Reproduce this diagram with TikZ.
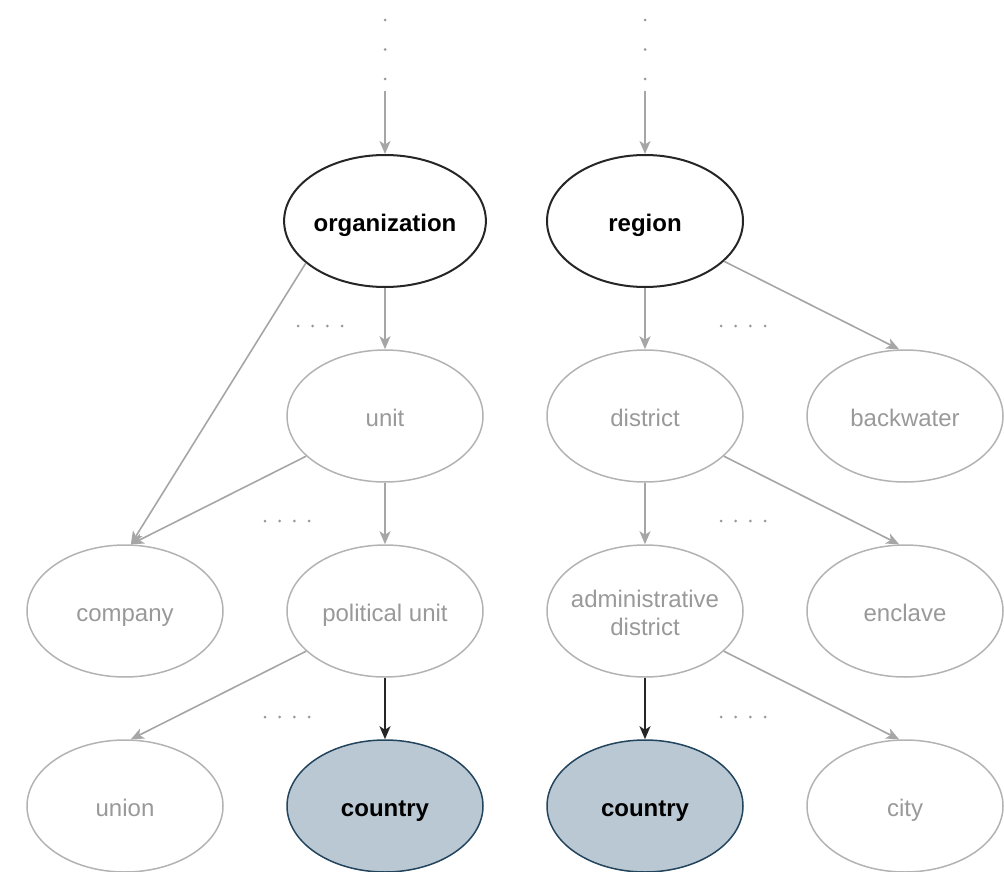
\documentclass[tikz,border=0pt]{standalone}
\usepackage{fontspec}
\setmainfont{Liberation Sans}
\usetikzlibrary{shapes.geometric,arrows.meta}
\definecolor{edgegray}{HTML}{A6A6A6}
\definecolor{rimgray}{HTML}{B3B3B3}
\definecolor{txtgray}{HTML}{999999}
\definecolor{hlfill}{HTML}{BAC8D3}
\definecolor{hlrim}{HTML}{23445D}
\tikzset{
  concept/.style={ellipse, minimum width=196pt, minimum height=132pt, inner sep=0pt,
    font=\fontsize{24pt}{28pt}\selectfont, align=center, text height=22pt, text depth=2pt},
  faded/.style={concept, draw=rimgray, line width=1.5pt, text=txtgray},
  root/.style={concept, draw=black!85, line width=2pt, font=\fontsize{24pt}{28pt}\selectfont\bfseries},
  target/.style={concept, draw=hlrim, fill=hlfill, line width=1.5pt, font=\fontsize{24pt}{28pt}\selectfont\bfseries},
  twoline/.style={text height=50pt, text depth=2pt, inner xsep=-8pt},
  link/.style={draw=edgegray, line width=1.6pt, -{Stealth[length=13pt,width=11pt,inset=3.5pt]}},
  mainlink/.style={draw=black!85, line width=1.8pt, -{Stealth[length=13pt,width=11pt,inset=3.5pt]}},
  ellipsis/.style={draw=txtgray, line width=3pt, line cap=round, dash pattern=on 0pt off 14.7pt},
  vellipsis/.style={draw=txtgray, line width=3pt, line cap=round, dash pattern=on 0pt off 29.5pt}
}
\begin{document}
\begin{tikzpicture}[x=1pt, y=-1pt]
\useasboundingbox (0,0) rectangle (1004,872);

% upper levels
\node[root] (org) at (385,221) {organization};
\node[root] (reg) at (645,221) {region};

% second level
\node[faded] (unit) at (385,416) {unit};
\node[faded] (dist) at (645,416) {district};
\node[faded] (back) at (905,416) {backwater};

% third level
\node[faded] (comp) at (125,611) {company};
\node[faded] (pol)  at (385,611) {political unit};
\node[faded, twoline] (adm) at (645,611) {administrative\\district};
\node[faded] (encl) at (905,611) {enclave};

% bottom level
\node[faded]  (union) at (125,806) {union};
\node[target] (ctyA)  at (385,806) {country};
\node[target] (ctyB)  at (645,806) {country};
\node[faded]  (city)  at (905,806) {city};

% elided ancestors above the roots
\coordinate (topA) at (385,20);
\coordinate (topAend) at (385,82);
\coordinate (topB) at (645,20);
\coordinate (topBend) at (645,82);
\coordinate (inA) at (385,91);
\coordinate (inB) at (645,91);
\draw[vellipsis] (topA) -- (topAend);
\draw[vellipsis] (topB) -- (topBend);
\draw[link] (inA) -- (org);
\draw[link] (inB) -- (reg);

% left hierarchy
\draw[link] (org) -- (unit);
\draw[link] (org.208) -- (comp.85);
\draw[link] (unit.207) -- (comp.85);
\draw[link] (unit) -- (pol);
\draw[link] (pol.207) -- (union.85);
\draw[mainlink] (pol) -- (ctyA);

% right hierarchy
\draw[link] (reg) -- (dist);
\draw[link] (reg.333) -- (back.95);
\draw[link] (dist) -- (adm);
\draw[link] (dist.333) -- (encl.95);
\draw[link] (adm.333) -- (city.95);
\draw[mainlink] (adm) -- (ctyB);

% omitted siblings
\coordinate (e1a) at (298,326); \coordinate (e1b) at (343,326);
\coordinate (e2a) at (265,521); \coordinate (e2b) at (310,521);
\coordinate (e3a) at (265,717); \coordinate (e3b) at (310,717);
\coordinate (e4a) at (721,326); \coordinate (e4b) at (766,326);
\coordinate (e5a) at (721,521); \coordinate (e5b) at (766,521);
\coordinate (e6a) at (721,717); \coordinate (e6b) at (766,717);
\draw[ellipsis] (e1a) -- (e1b);
\draw[ellipsis] (e2a) -- (e2b);
\draw[ellipsis] (e3a) -- (e3b);
\draw[ellipsis] (e4a) -- (e4b);
\draw[ellipsis] (e5a) -- (e5b);
\draw[ellipsis] (e6a) -- (e6b);
\end{tikzpicture}
\end{document}
